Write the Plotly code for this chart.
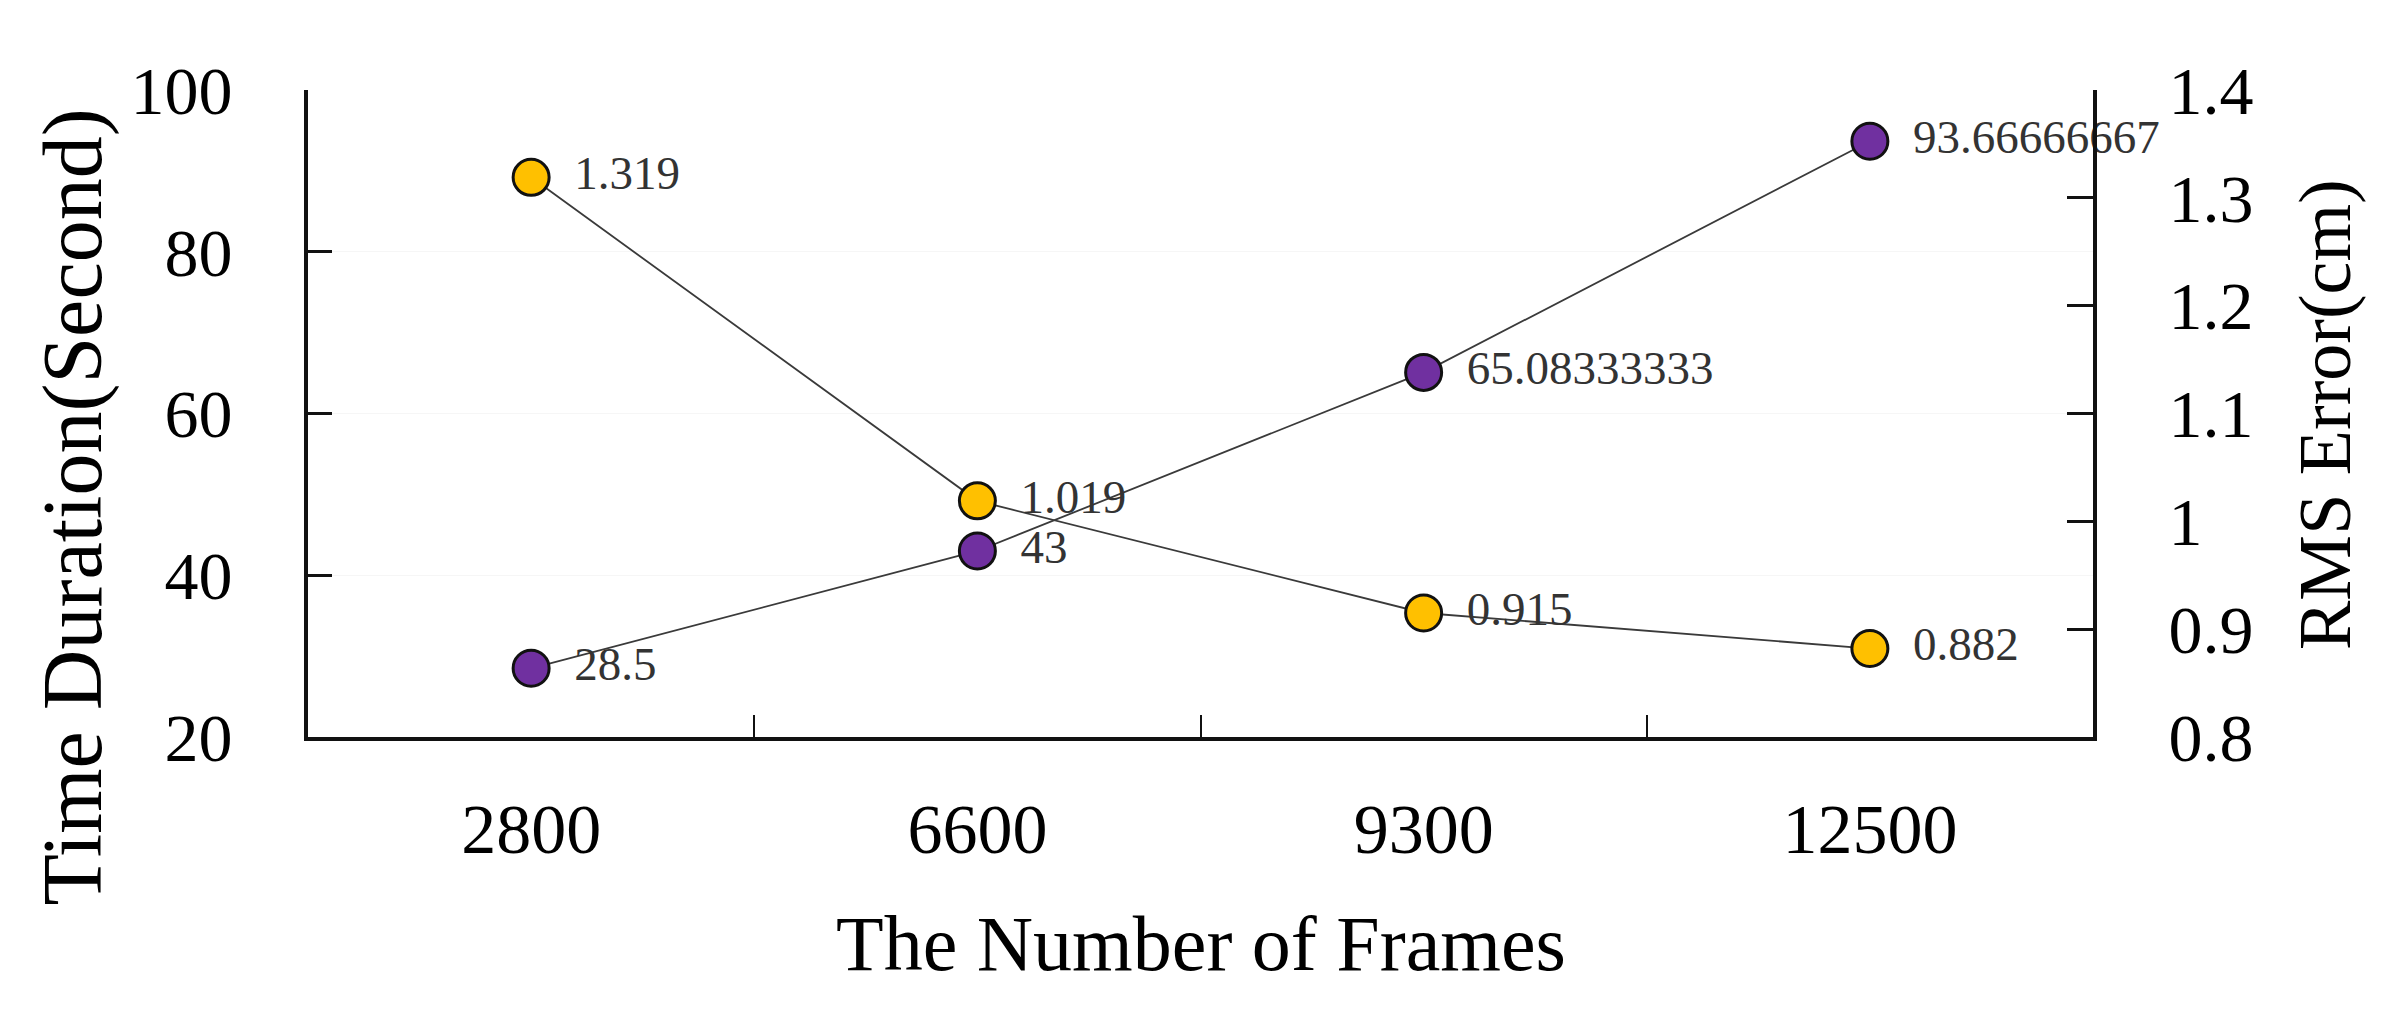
import plotly.graph_objects as go

# data
frames = ["2800", "6600", "9300", "12500"]
time_duration = [28.5, 43, 65.08333333, 93.66666667]
rms_error = [1.319, 1.019, 0.915, 0.882]
time_labels = ["28.5", "43", "65.08333333", "93.66666667"]
rms_labels = ["1.319", "1.019", "0.915", "0.882"]

# page body has an 8px margin, so the figure is a bit smaller than the window
W, H = 2370, 999
L, R, T, B = 300, 2085, 82, 729

FONT = "Liberation Serif"
PURPLE = "#7030A0"
YELLOW = "#FFC000"
LINE = "#3a3a3a"
PAD = "\u00a0\u2006"

fig = go.Figure()

# RMS error on the right axis
fig.add_trace(go.Scatter(
    x=frames, y=rms_error, yaxis="y2",
    mode="lines+markers+text",
    text=rms_labels, texttemplate=PAD + "%{text}", textposition="middle right",
    textfont=dict(family=FONT, size=47, color="#333333"),
    line=dict(color=LINE, width=1.8),
    marker=dict(size=36, color=YELLOW, line=dict(color="#111111", width=3)),
    cliponaxis=False, showlegend=False,
))

# time duration on the left axis
fig.add_trace(go.Scatter(
    x=frames, y=time_duration,
    mode="lines+markers+text",
    text=time_labels, texttemplate=PAD + "%{text}", textposition="middle right",
    textfont=dict(family=FONT, size=47, color="#333333"),
    line=dict(color=LINE, width=1.8),
    marker=dict(size=36, color=PURPLE, line=dict(color="#111111", width=3)),
    cliponaxis=False, showlegend=False,
))

fig.update_layout(
    width=W, height=H,
    margin=dict(l=L, r=W - R, t=T, b=H - B, pad=0),
    paper_bgcolor="white", plot_bgcolor="white",
    font=dict(family=FONT, color="black"),
    xaxis=dict(
        type="category", range=[-0.5, 3.5],
        tickson="boundaries", ticks="inside", ticklen=22, tickwidth=2, tickcolor="#111",
        showline=True, linecolor="#111", linewidth=4, mirror=False,
        showgrid=False, zeroline=False,
        tickfont=dict(family=FONT, size=70, color="black"),
        ticklabelstandoff=28,
    ),
    yaxis=dict(
        range=[20, 100], dtick=20, tick0=20,
        ticks="inside", ticklen=24, tickwidth=3, tickcolor="#111",
        showline=True, linecolor="#111", linewidth=4,
        showgrid=True, gridcolor="#f6f6f6", gridwidth=1, zeroline=False,
        tickfont=dict(family=FONT, size=68, color="black"),
        ticklabelstandoff=58,
    ),
    yaxis2=dict(
        overlaying="y", side="right",
        range=[0.8, 1.4], dtick=0.1, tick0=0.8,
        ticks="inside", ticklen=26, tickwidth=3, tickcolor="#111",
        showline=True, linecolor="#111", linewidth=4,
        showgrid=False, zeroline=False,
        tickfont=dict(family=FONT, size=68, color="black"),
        ticklabelstandoff=58,
    ),
    annotations=[
        dict(text="The Number of Frames", xref="paper", yref="paper",
             x=0.5, y=-(935 - B) / (B - T), xanchor="center", yanchor="middle",
             showarrow=False, font=dict(family=FONT, size=78, color="black")),
        dict(text="Time Duration(Second)", xref="paper", yref="paper",
             x=-(L - 64) / (R - L), y=(B - 99) / (B - T), xanchor="center", yanchor="top",
             textangle=-90, showarrow=False, font=dict(family=FONT, size=84, color="black")),
        dict(text="RMS Error(cm)", xref="paper", yref="paper",
             x=1 + (2317 - R) / (R - L), y=(B - 407) / (B - T), xanchor="center", yanchor="middle",
             textangle=-90, showarrow=False, font=dict(family=FONT, size=74, color="black")),
    ],
)

fig.write_html("out.html")
